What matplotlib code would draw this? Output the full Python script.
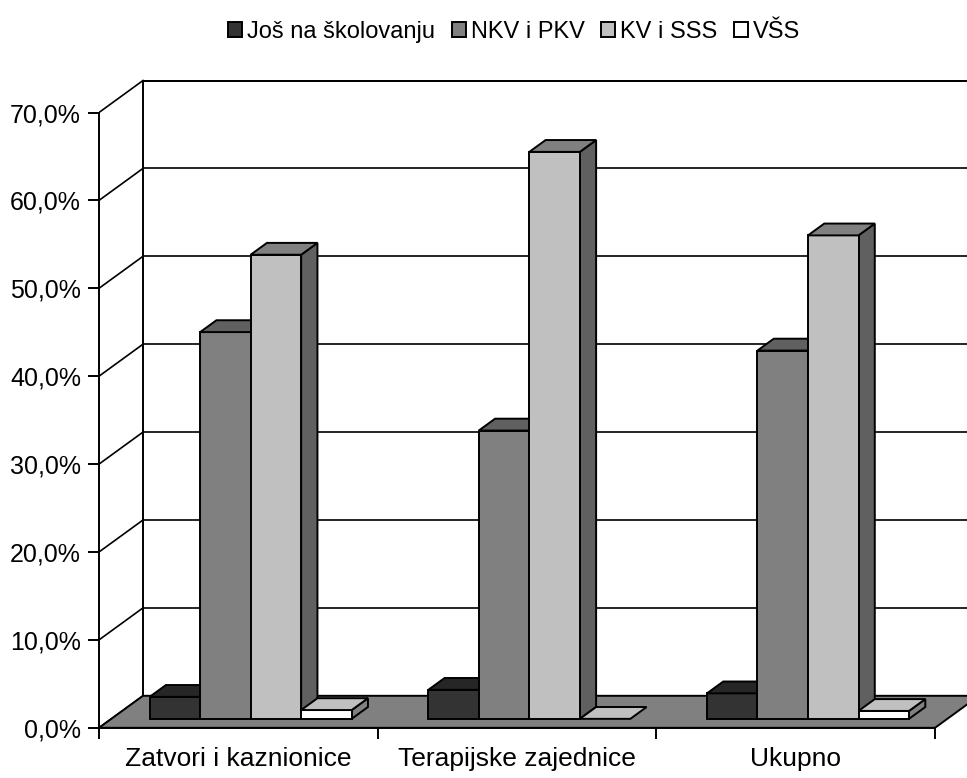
import matplotlib
matplotlib.use("Agg")
import matplotlib.pyplot as plt
from matplotlib.patches import Polygon, Patch
from matplotlib.ticker import FixedLocator, FuncFormatter

categories = ["Zatvori i kaznionice", "Terapijske zajednice", "Ukupno"]
series = ["Još na školovanju", "NKV i PKV", "KV i SSS", "VŠS"]
jos_na_skolovanju = [2.5, 3.3, 2.9]
nkv_pkv = [44.0, 32.8, 41.9]
kv_sss = [52.8, 64.5, 55.0]
vss = [1.0, 0.0, 0.9]
values = [jos_na_skolovanju, nkv_pkv, kv_sss, vss]

# front / top / side shades for each series
front = ["#333333", "#808080", "#c0c0c0", "#ffffff"]
top = ["#262626", "#606060", "#808080", "#c0c0c0"]
side = ["#1a1a1a", "#404040", "#606060", "#808080"]

plt.rcParams["font.family"] = ["Liberation Sans", "DejaVu Sans"]

fig = plt.figure(figsize=(9.67, 7.78), dpi=100)
W, H = 967, 778
x0_px, unit_x = 99, 278.67
y0_px, unit_y = 727.8, 8.79
xmax = (W - x0_px) / unit_x
ymax = 75
ax = fig.add_axes([x0_px / W, (H - y0_px) / H, (W - x0_px) / W, ymax * unit_y / H])
ax.set_xlim(0, xmax)
ax.set_ylim(0, ymax)

# depth of the 3d box in data units
DX = 44 / unit_x
DY = 32 / unit_y
n_cat = len(categories)
lw = 1.4

# back wall and side wall grid
for v in range(0, 80, 10):
    ax.plot([DX, n_cat + DX], [v + DY, v + DY], color="black", lw=1.2, zorder=1)
    ax.plot([0, DX], [v, v + DY], color="black", lw=1.2, zorder=1)
ax.plot([DX, DX], [DY, 70 + DY], color="black", lw=lw, zorder=1)
ax.plot([DX, n_cat + DX], [70 + DY, 70 + DY], color="black", lw=lw, zorder=1)

# floor
floor = Polygon([(0, 0), (n_cat, 0), (n_cat + DX, DY), (DX, DY)],
                closed=True, facecolor="#808080", edgecolor="black", lw=lw, zorder=2)
ax.add_patch(floor)

# bars
bw = 0.18125
gap = 1 - len(series) * bw
f0 = 0.28   # depth where bar front sits
bd = 0.37   # bar depth
ox, oy = f0 * DX, f0 * DY
ddx, ddy = bd * DX, bd * DY
z = 3
for i in range(n_cat):
    for j in range(len(series)):
        v = values[j][i]
        xl = i + gap / 2 + j * bw + ox
        xr = xl + bw
        if v > 0:
            ax.add_patch(Polygon([(xr, oy), (xr + ddx, oy + ddy), (xr + ddx, v + oy + ddy), (xr, v + oy)],
                                 closed=True, facecolor=side[j], edgecolor="black", lw=lw, zorder=z))
            ax.add_patch(Polygon([(xl, oy), (xr, oy), (xr, v + oy), (xl, v + oy)],
                                 closed=True, facecolor=front[j], edgecolor="black", lw=lw, zorder=z))
        ax.add_patch(Polygon([(xl, v + oy), (xr, v + oy), (xr + ddx, v + oy + ddy), (xl + ddx, v + oy + ddy)],
                             closed=True, facecolor=top[j], edgecolor="black", lw=lw, zorder=z))
        z += 1

for s in ["top", "right"]:
    ax.spines[s].set_visible(False)
ax.spines["left"].set_bounds(0, 70)
ax.spines["bottom"].set_bounds(0, n_cat)
ax.spines["left"].set_linewidth(lw)
ax.spines["bottom"].set_linewidth(lw)
ax.spines["left"].set_zorder(20)
ax.spines["bottom"].set_zorder(20)

ax.yaxis.set_major_locator(FixedLocator(list(range(0, 80, 10))))
ax.yaxis.set_major_formatter(FuncFormatter(lambda v, p: f"{v:.1f}%".replace(".", ",")))
ax.tick_params(axis="y", length=8, width=lw, pad=5, labelsize=18)

ax.xaxis.set_major_locator(FixedLocator(list(range(n_cat + 1))))
ax.xaxis.set_major_formatter(FuncFormatter(lambda v, p: ""))
ax.xaxis.set_minor_locator(FixedLocator([i + 0.5 for i in range(n_cat)]))
ax.set_xticklabels(categories, minor=True)
ax.tick_params(axis="x", which="major", length=8, width=lw)
ax.tick_params(axis="x", which="minor", length=0, pad=14, labelsize=19)

handles = [Patch(facecolor=front[j], edgecolor="black", lw=1.4) for j in range(len(series))]
fig.legend(handles, series, loc="center", bbox_to_anchor=(514 / W, 1 - 32 / H), ncol=4,
           frameon=False, handlelength=0.6, handleheight=0.6, handletextpad=0.2,
           columnspacing=0.7, prop={"size": 17})

fig.savefig("out.png", dpi=100)
